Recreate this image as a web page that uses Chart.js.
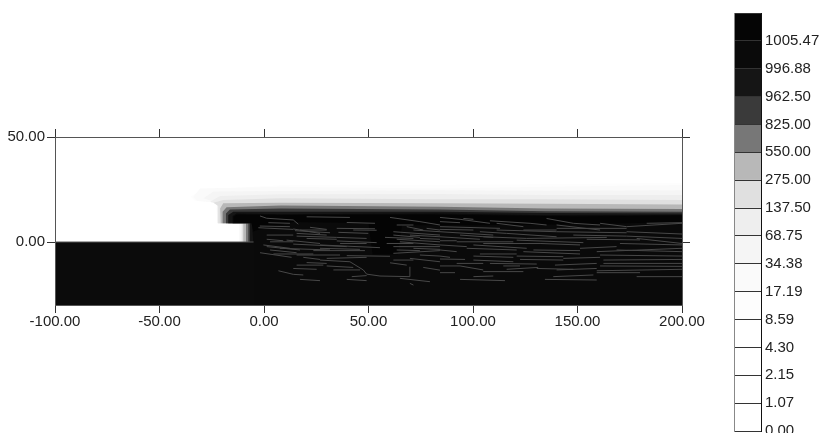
<!DOCTYPE html>
<html>
<head>
<meta charset="utf-8">
<title>Contour plot</title>
<script src="https://cdn.jsdelivr.net/npm/chart.js@4"></script>
<style>
  html, body { margin: 0; padding: 0; background: #fff; overflow: hidden; width: 821px; height: 433px; }
  .box { position: absolute; }
</style>
</head>
<body>
<div class="box" style="left:0;top:100px;width:730px;height:250px"><canvas id="field"></canvas></div>
<div class="box" style="left:733px;top:0;width:88px;height:470px"><canvas id="scale"></canvas></div>
<script>
// Axis values
const xTicks = [-100, -50, 0, 50, 100, 150, 200];
const yTicks = [0, 50];

// Colour bar, top band first
const levelLabels = ["", "1005.47", "996.88", "962.50", "825.00", "550.00", "275.00", "137.50",
    "68.75", "34.38", "17.19", "8.59", "4.30", "2.15", "1.07", "0.00"];
const levelGreys = ["#050505", "#0a0a0a", "#151515", "#3a3a3a", "#777777", "#b8b8b8", "#e0e0e0",
    "#eeeeee", "#f5f5f5", "#fafafa", "#fdfdfd", "#ffffff", "#ffffff", "#ffffff", "#ffffff"];

// Contour outlines [x, y], outermost first
const contour0 = [[200, -30], [200, 28.2], [135, 27.5], [84, 27.3], [8, 27], [-30, 25], [-35, 21.6], [-33, 19.5], [-22.8, 18.7], [-22.5, 8.9], [-12, 8.9], [-12, 0], [-12, -30]];
const contour1 = [[200, 27.1], [135, 26.3], [84, 25.5], [8, 26.3], [-30.6, 25.5], [-33.8, 21.6], [-32.2, 19.7], [-22.7, 18.7], [-22.3, 8.9], [-11.8, 8.9], [-11.8, 0], [-11.8, -30], [200, -30]];
const contour2 = [[200, 24.7], [135, 24.4], [84, 24.7], [8, 24.3], [-24.2, 24], [-29, 20.8], [-22.4, 18.7], [-22.3, 8.9], [-11.5, 8.9], [-11.5, 0], [-11.5, -30], [200, -30]];
const contour3 = [[200, 22.4], [135, 22.4], [84, 22.8], [8, 22.7], [-21, 21.9], [-25.8, 19.2], [-22.2, 18.1], [-22.2, 8.9], [-11, 8.9], [-11, 0], [-11, -30], [200, -30]];
const contour4 = [[200, 20], [135, 20.3], [84, 20.3], [8, 20.8], [-19.5, 20], [-24.2, 18.7], [-21.9, 17.1], [-21.9, 8.9], [-10.5, 8.9], [-10.5, 0], [-10.5, -30], [200, -30]];
const contour5 = [[200, 17.9], [135, 18.2], [84, 18.4], [8, 18.7], [-19.5, 18.4], [-21, 16], [-20.7, 8.9], [-9.9, 8.9], [-9.9, 0], [-9.9, -30], [200, -30]];
const contour6 = [[200, 15.7], [135, 16], [84, 16.8], [8, 17.4], [-17.9, 16.5], [-19.8, 14.4], [-19.8, 8.9], [-8.6, 8.9], [-8.6, 0], [-8.6, -30], [200, -30]];
const contour7 = [[200, 14.4], [135, 14.7], [84, 15.5], [8, 16], [-16.3, 15.5], [-18.2, 13.6], [-18.2, 8.9], [-7.5, 8.9], [-7.5, 0], [-7.5, -30], [200, -30]];
const contour8 = [[200, 13.6], [135, 13.8], [84, 14.4], [8, 14.4], [-14.7, 14.4], [-17.1, 12.8], [-17.1, 8.9], [-6.7, 8.9], [-6.7, 0], [-6.7, -30], [200, -30]];
const contour9 = [[200, 12.8], [135, 12.7], [84, 13.6], [8, 13.2], [-13.1, 13.6], [-15, 12.4], [-15, 8.9], [-5.8, 8.9], [-5.1, 0], [-5.1, -30], [200, -30]];
const coreBand = [[200, 12.6], [150, 12.2], [84, 13], [8, 12.9], [-13, 13], [-14.5, 12], [-14.5, 9.2], [-6, 9], [-5, 5], [-4, 5.5], [14, 9.5], [50, 9], [52, -6], [64, -6], [66, 8], [100, 8], [150, 8.5], [200, 9.5]];
const ground = [[-100, 0], [-5, 0], [-5, -30], [-100, -30]];
const groundEdge = [[-100, 0], [-5, 0]];

// Thin contour strands inside the dark zone, each x0, y0, x1, y1, ...
const strands = [
    [-1.9, 12.4, 1.3, 11.3], [1.3, 11.3, 14, 10.5, 16.4, 8.5], [2.1, 9.2, 12.4, 8.9], [20.4, 12, 41.1, 11.7],
    [39.6, 9.3, 53.1, 8.9], [60.3, 11.7, 74.6, 9.7, 84.2, 8.1], [63.5, 8.1, 71.5, 8.1], [77.8, 6.5, 84.2, 5.7],
    [-2.7, 6.8, 14, 6], [14, 6.2, 26.8, 4.1], [22, 7, 30, 6], [34.8, 6.5, 53.1, 6.3],
    [14.8, 5.4, 31.6, 4.4], [35.6, 4.6, 49.9, 4.1], [68.3, 7.3, 76.2, 5.7], [61.9, 4.9, 84.2, 3.3],
    [15.6, 2.8, 34.8, 2.2], [1.3, 1.3, 9.2, 0.6], [10.8, 0.9, 26.8, -0.7], [34.8, 2.2, 49.1, 1.7],
    [34.8, 0.5, 53.9, -0.3], [57.9, 2.2, 71.5, 1.7], [63.5, 1.3, 84.2, 0.1], [69.8, 3.3, 84.2, 2.5],
    [-0.3, -1.4, 12.4, -3], [-1.9, -5.1, 13.2, -7.3], [7.6, -3, 31.6, -3.8], [14, -1, 39.6, -2.2],
    [23.6, -4.1, 48.3, -4.1], [26.8, -1.4, 55.5, -2.7], [4.5, -5.7, 23.6, -5.7], [18.8, -7.3, 26.8, -8.3],
    [39.6, -6.5, 60.3, -6.8], [61.9, -2.2, 84.2, -2.2], [61.9, -5.4, 84.2, -4.1], [69.8, -7.8, 84.2, -9.4],
    [65, 0.1, 84.2, -1.4], [26.8, -8.6, 41.1, -9.4, 47.5, -13.3, 49.1, -15.3, 55.5, -16.2, 69.8, -16.5, 69.8, -11.8],
    [14, -12.6, 25.2, -13], [15.6, -11, 28.4, -11], [6.9, -13.7, 14, -15.4, 18.8, -15.7], [30, -11.4, 42.7, -12.1],
    [17.2, -17.8, 26.8, -18.4], [39.6, -17.8, 49.1, -18.4], [42, -16.5, 49.1, -16], [60.3, -9.9, 68.3, -11],
    [65, -17.3, 79.4, -18.9], [76.2, -12.1, 84.2, -13.4], [69.8, -19.7, 71.5, -20.5],
    [84.2, 11.7, 93.8, 10.8, 108.1, 8.9], [95.4, 11.2, 100.2, 10.8], [84.2, 9.7, 93.8, 9.2],
    [108.1, 10.1, 127.3, 8.9, 135.2, 8.1], [135.2, 11.2, 148, 8.9, 160.8, 8.1], [111.3, 8.9, 124.1, 7.3],
    [140, 6.5, 173.5, 6.5], [173.5, 7.3, 200, 8.9], [183.1, 8.9, 200, 9.2], [84.2, 7.3, 112.9, 6.5],
    [84.2, 4.9, 109.7, 3.3], [111.3, 5.7, 140, 4.9], [116.1, 4.1, 140, 2.5], [140, 4.9, 173.5, 4.4],
    [173.5, 4.9, 200, 3.8], [84.2, 2.5, 103.3, 1.3], [104.9, 2.5, 125.7, 1.7], [125.7, 1.7, 164, 2.2],
    [92.2, 0.1, 119.3, 0.1], [120.9, 0.9, 152.8, -0.3], [154.4, 1.3, 179.9, 1], [178.3, 1.7, 200, -0.7],
    [84.2, -1.4, 97, -2.2], [100.2, -1.4, 125.7, -3], [132.1, -0.7, 151.2, -1.4], [151.2, -3, 168.7, -2.2],
    [170.3, -0.7, 200, -1.4], [84.2, -3.8, 92.2, -4.6], [97, -3, 120.9, -3.8], [159.2, -4.6, 200, -3],
    [84.2, -6.7, 89, -7.3], [103.3, -5.7, 120.9, -5.7], [124.1, -4.6, 151.2, -5.7], [160.8, -6.2, 200, -6.7],
    [84.2, -8.1, 96.2, -8.3], [122.5, -8.3, 143.2, -8.6], [162.4, -8.6, 200, -8.3], [100.2, -8.6, 119.3, -9.4],
    [84.2, -11.4, 93.8, -11.4, 104.9, -13.3], [114.5, -11.4, 122.5, -11.4], [116.1, -13, 131.2, -12.1],
    [139.2, -11, 159.2, -10.2], [162.4, -10.2, 200, -10.2], [84.2, -14.6, 91.4, -14.6], [104.9, -14.1, 124.1, -14.1],
    [140, -13.3, 159.2, -12.6], [159.2, -13.7, 200, -13], [93.8, -17.8, 115.3, -18.4], [100.2, -16.5, 109.7, -16.2],
    [134.4, -17.8, 159.2, -18.1], [138.4, -16.5, 157.6, -15.7], [178.3, -16.5, 200, -16.5],
    [-2, 7.6, 12.4, 7.3], [17.2, 5.7, 30, 5.7], [15.6, 4.1, 30, 3.3], [20.4, 1.7, 34.8, 1.3],
    [1.3, 3.3, 14, 3.3], [2.9, 0.1, 14, 0.1], [1.3, -2.2, 17.2, -3.8], [2.9, -3.8, 15.6, -5.1],
    [26.8, -3, 45.9, -3.5], [15.6, -6.2, 36.4, -6.2], [30, -7.8, 49.1, -7.3], [36.4, -0.7, 49.1, -0.7],
    [42.7, 5.7, 53.9, 5.6], [61.9, 3.3, 74.6, 2.2], [58.7, -0.7, 71.5, -0.7], [63.5, -3.8, 74.6, -4.1],
    [61.9, -8.6, 71.5, -8.6], [74.6, -6.2, 84.2, -6.7], [71.5, 5.7, 84.2, 4.9], [74.6, 1.7, 84.2, 1.3],
    [71.5, -3, 84.2, -3.5], [20.4, -9.8, 30, -10.2], [33.2, -13.3, 46, -13.3],
    [84.2, 6, 100.2, 5.7], [93.8, 3.3, 109.7, 2.2], [84.2, 0.6, 92.2, 0.6], [103.3, 4.9, 116.1, 4.1],
    [124.1, 5.7, 140, 5.7], [140, 8.1, 160.8, 5.7], [160.8, 8.9, 173.5, 7.3], [148, 3.3, 173.5, 2.8],
    [173.5, 2.8, 200, 1.7], [104.9, -0.7, 132.1, -0.7], [128.9, -3.8, 151.2, -4.1], [168.7, -3.8, 200, -4.6],
    [100.2, -6.7, 119.3, -7.3], [120.9, -6.7, 143.2, -7], [143.2, -7.8, 160.8, -7.3], [108.1, -10.2, 130.5, -10.5],
    [92.2, -10.2, 104.9, -10.2], [160.8, -11.4, 200, -11.6], [130.5, -12.6, 148, -13], [159.2, -14.6, 179.9, -14.6],
];

const FONT = { family: "'Liberation Sans', Arial, sans-serif", size: 15 };
const AXIS_COLOR = "#333333";

const toPoints = (pairs) => pairs.map(([x, y]) => ({ x, y }));

// one dataset, the NaN points break the line between strands
const strandPoints = [];
strands.forEach((strand) => {
    for (let i = 0; i < strand.length; i += 2) {
        strandPoints.push({ x: strand[i], y: strand[i + 1] });
    }
    strandPoints.push({ x: NaN, y: NaN });
});

const filled = (pairs, color) => ({
    data: toPoints(pairs),
    showLine: true,
    fill: "shape",
    backgroundColor: color,
    borderWidth: 0,
    pointRadius: 0,
});

const stroked = (points, color) => ({
    data: points,
    showLine: true,
    fill: false,
    borderColor: color,
    borderWidth: 1,
    pointRadius: 0,
    spanGaps: false,
});

// first dataset ends up on top
const fieldDatasets = [
    stroked(strandPoints, "#484848"),
    stroked(toPoints(groundEdge), "#555555"),
    filled(ground, "#0b0b0b"),
    filled(coreBand, "#040404"),
    filled(contour9, "#0a0a0a"),
    filled(contour8, "#151515"),
    filled(contour7, "#3a3a3a"),
    filled(contour6, "#777777"),
    filled(contour5, "#b8b8b8"),
    filled(contour4, "#e0e0e0"),
    filled(contour3, "#eeeeee"),
    filled(contour2, "#f5f5f5"),
    filled(contour1, "#fafafa"),
    filled(contour0, "#fdfdfd"),
];

const setTicks = (values) => (scale) => {
    scale.ticks = values.map((value) => ({ value }));
};

const axisGrid = { drawOnChartArea: false, color: AXIS_COLOR, tickLength: 8, z: 1 };
const axisBorder = { display: true, color: "#555555", z: 1 };

new Chart(document.getElementById("field"), {
    type: "scatter",
    data: { datasets: fieldDatasets },
    options: {
        responsive: true,
        maintainAspectRatio: false,
        animation: false,
        events: [],
        layout: { padding: 0 },
        plugins: { legend: { display: false }, tooltip: { enabled: false } },
        scales: {
            x: {
                type: "linear",
                min: -100,
                max: 200,
                position: "bottom",
                afterBuildTicks: setTicks(xTicks),
                afterFit: (scale) => { scale.height = 45; },
                grid: axisGrid,
                border: axisBorder,
                ticks: {
                    color: "#222222",
                    font: FONT,
                    padding: 0,
                    maxRotation: 0,
                    callback: (v) => v.toFixed(2),
                },
            },
            xTop: {
                type: "linear",
                min: -100,
                max: 200,
                position: "top",
                afterBuildTicks: setTicks(xTicks),
                afterFit: (scale) => { scale.height = 37; },
                grid: axisGrid,
                border: axisBorder,
                ticks: { display: false },
            },
            y: {
                type: "linear",
                min: -30,
                max: 50,
                position: "left",
                afterBuildTicks: setTicks(yTicks),
                afterFit: (scale) => { scale.width = 55; },
                grid: axisGrid,
                border: axisBorder,
                ticks: {
                    color: "#222222",
                    font: FONT,
                    padding: 2,
                    callback: (v) => v.toFixed(2),
                },
            },
            yRight: {
                type: "linear",
                min: -30,
                max: 50,
                position: "right",
                afterBuildTicks: setTicks(yTicks),
                afterFit: (scale) => { scale.width = 48; },
                grid: axisGrid,
                border: axisBorder,
                ticks: { display: false },
            },
        },
    },
});

// Colour bar: equal stacked steps, bottom band first
const stepDatasets = levelGreys.slice().reverse().map((grey) => ({
    data: [1],
    backgroundColor: grey,
    borderWidth: 0,
    barPercentage: 1,
    categoryPercentage: 1,
    stack: "bar",
}));

const reversedLabels = levelLabels.slice().reverse();

new Chart(document.getElementById("scale"), {
    type: "bar",
    data: { labels: [""], datasets: stepDatasets },
    options: {
        responsive: true,
        maintainAspectRatio: false,
        animation: false,
        events: [],
        layout: { padding: { top: 11, bottom: 39, left: 1, right: 0 } },
        plugins: { legend: { display: false }, tooltip: { enabled: false } },
        scales: {
            x: { display: false, stacked: true },
            y: {
                stacked: true,
                min: 0,
                max: 15,
                position: "right",
                afterFit: (scale) => { scale.width = 60; },
                grid: { color: "#333333", z: 1, tickLength: 0, drawTicks: false },
                border: { display: true, color: "#111111", z: 1 },
                ticks: {
                    stepSize: 1,
                    color: "#222222",
                    font: FONT,
                    padding: 4,
                    autoSkip: false,
                    callback: (v) => reversedLabels[v],
                },
            },
            yLeft: {
                min: 0,
                max: 15,
                position: "left",
                afterFit: (scale) => { scale.width = 0; },
                grid: { drawOnChartArea: false, drawTicks: false },
                border: { display: true, color: "#888888", z: 1 },
                ticks: { display: false },
            },
        },
    },
});
</script>
</body>
</html>
